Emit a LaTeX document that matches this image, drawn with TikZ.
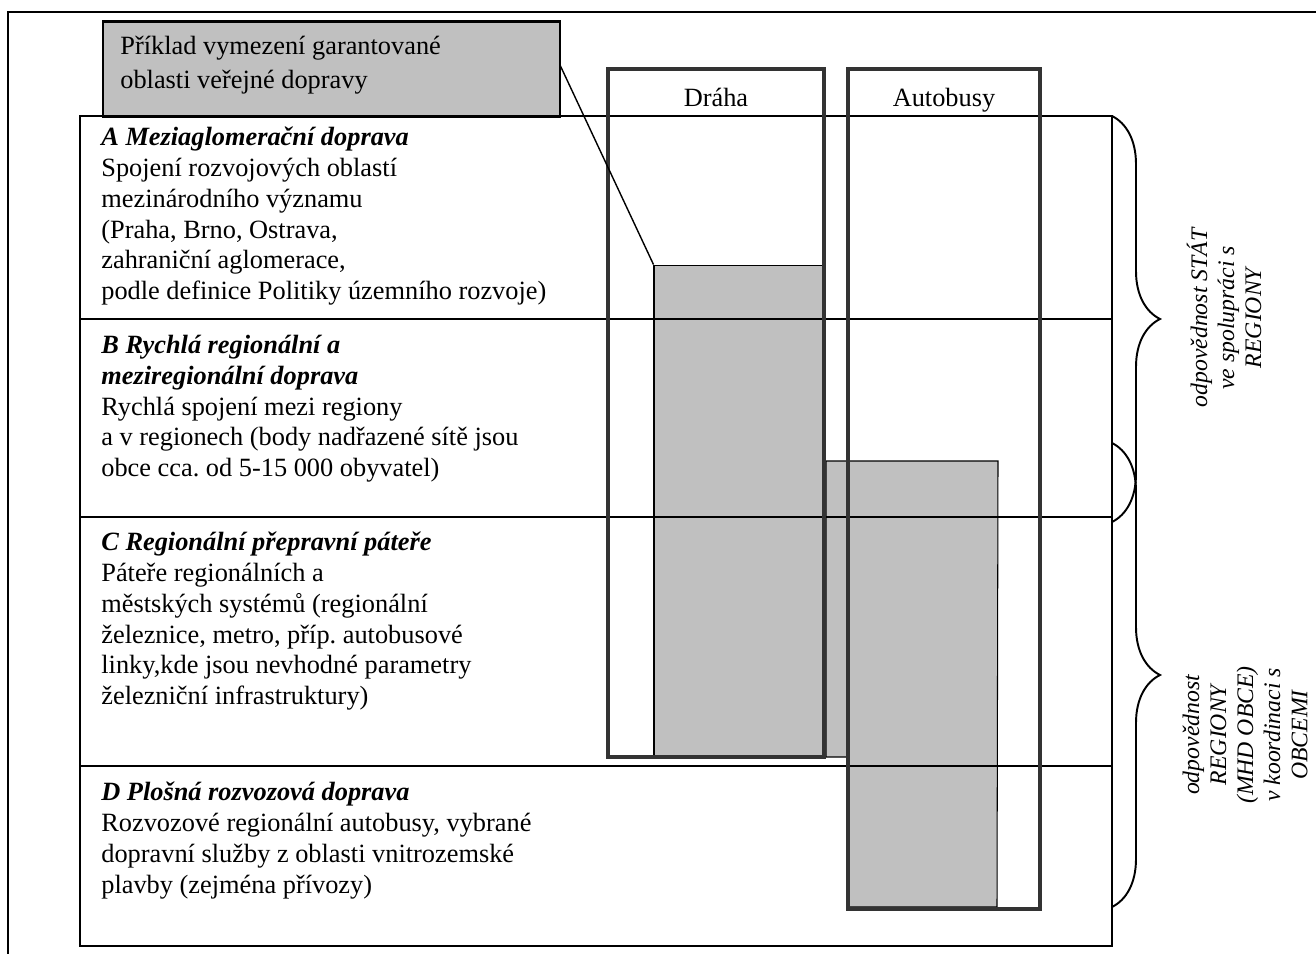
\documentclass[tikz,border=0pt]{standalone}
\usepackage{fontspec}
\setmainfont{Liberation Serif}
\frenchspacing
\usetikzlibrary{decorations.pathreplacing}
\definecolor{areagray}{HTML}{C0C0C0}
\definecolor{colgray}{HTML}{333333}
\begin{document}
\begin{tikzpicture}[x=0.02cm, y=0.02cm]
            \tikzstyle{every node}+=[inner sep=0pt]
            \tikzstyle{tableline}=[black, line width=1.1pt]
            \tikzstyle{column}=[draw=colgray, line width=2.8pt]
            \tikzstyle{area}=[fill=areagray, draw=black, line width=0.6pt]
            \tikzstyle{rowtext}=[anchor=north west, align=left, font=\fontsize{15}{17.5}\selectfont]
            \tikzstyle{sidetext}=[rotate=90, align=center, font=\fontsize{13.5}{15.4}\selectfont\itshape]
            \tikzstyle{rowbrace}=[black, line width=1.1pt, decorate, decoration={brace, amplitude=0.96cm}]
            \useasboundingbox (0,0) rectangle (1316,-954);
            \draw [tableline] (8,-954) -- (8,-12) -- (1316,-12);
            \filldraw [area] (826,-461) -- (998,-461) -- (997,-907) -- (848,-907) -- (848,-757) -- (826,-757) -- cycle;
            \node [area, minimum width=3.4cm, minimum height=9.84cm] (drahaarea) at (739,-511) {};
            \draw [tableline] (80,-116) rectangle (1112,-946);
            \foreach \y in {319,517,766}
                \draw [tableline] (80,-\y) -- (1112,-\y);
            \draw [column] (608,-69) rectangle (824,-757);
            \draw [column] (848,-69) rectangle (1040,-909);
            \node [anchor=base, font=\fontsize{15}{17.5}\selectfont] (draha) at (716,-106) {Dráha};
            \node [anchor=base, font=\fontsize{15}{17.5}\selectfont] (autobusy) at (944,-106) {Autobusy};
            \node [rowtext] (rowa) at (101,-127) {\textbf{\textit{A Meziaglomerační doprava}}\\Spojení rozvojových oblastí\\mezinárodního významu\\(Praha, Brno, Ostrava,\\zahraniční aglomerace,\\podle definice Politiky územního rozvoje)};
            \node [rowtext] (rowb) at (101,-335) {\textbf{\textit{B Rychlá regionální a}}\\\textbf{\textit{meziregionální doprava}}\\Rychlá spojení mezi regiony\\a v regionech (body nadřazené sítě jsou\\obce cca. od 5-15 000 obyvatel)};
            \node [rowtext] (rowc) at (101,-532) {\textbf{\textit{C Regionální přepravní páteře}}\\Páteře regionálních a\\městských systémů (regionální\\železnice, metro, příp. autobusové\\linky,kde jsou nevhodné parametry\\železniční infrastruktury)};
            \node [rowtext] (rowd) at (101,-782) {\textbf{\textit{D Plošná rozvozová doprava}}\\Rozvozové regionální autobusy, vybrané\\dopravní služby z oblasti vnitrozemské\\plavby (zejména přívozy)};
            \draw [black, line width=0.8pt] (drahaarea.north west) -- (560,-65) coordinate (calloutend);
            \node [area, line width=1.2pt, minimum width=9.14cm, minimum height=1.9cm] (callout) at (331.5,-69) {};
            \node [rowtext, font=\fontsize{15}{19.4}\selectfont] (callouttext) at (120,-36) {Příklad vymezení garantované\\oblasti veřejné dopravy};
            \draw [rowbrace] (1112,-116) -- (1112,-522);
            \draw [rowbrace] (1112,-443) -- (1112,-907);
            \node [sidetext] (stat) at (1224,-318) {odpovědnost STÁT\\ve spolupráci s\\REGIONY};
            \node [sidetext] (regiony) at (1245,-735) {odpovědnost\\REGIONY\\(MHD OBCE)\\v koordinaci s\\OBCEMI};
        \end{tikzpicture}
\end{document}
